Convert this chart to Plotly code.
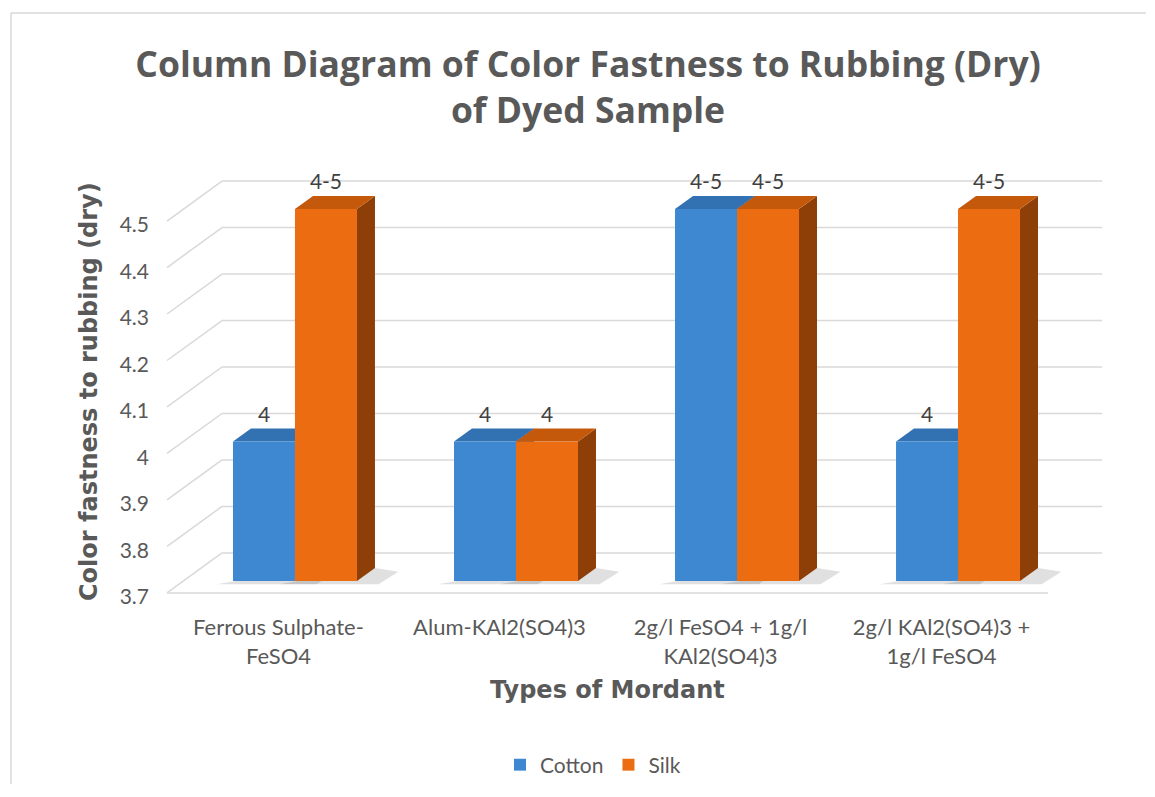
import plotly.graph_objects as go

# ---------------- data ----------------
categories = [
    "Ferrous Sulphate-<br>FeSO4",
    "Alum-KAl2(SO4)3",
    "2g/l FeSO4 + 1g/l<br>KAl2(SO4)3",
    "2g/l KAl2(SO4)3 +<br>1g/l FeSO4",
]
cotton = [4.0, 4.0, 4.5, 4.0]
silk = [4.5, 4.0, 4.5, 4.5]
cotton_labels = ["4", "4", "4-5", "4"]
silk_labels = ["4-5", "4", "4-5", "4-5"]
y_tickvals = [3.7, 3.8, 3.9, 4.0, 4.1, 4.2, 4.3, 4.4, 4.5]
y_ticktext = ["3.7", "3.8", "3.9", "4", "4.1", "4.2", "4.3", "4.4", "4.5"]

# ---------------- style / geometry ----------------
BASE = 3.7
X_RANGE = [-0.656, 3.665]
Y_RANGE = [3.659, 4.627]
BAR_W = 0.2805
DX, DY = 0.0814, 0.028            # 3-D depth of each column
BACK_DX, BACK_DY = 0.174, 0.0602  # back wall offset from column plane
FRONT_DX, FRONT_DY = -0.0747, -0.0258  # front edge offset from column plane
TICK_SHIFT = -0.0086              # extra nudge of the value labels
BACK_RIGHT = 3.652
FRONT_RIGHT = 3.407
LABEL_OFF = 0.054
GRID = "#d9d9d9"
TXT = "#595959"
FONT = "Lato"
TITLE_FONT = "Open Sans"
AXT_FONT = "DejaVu Sans"
FRONT_COL = {"Cotton": "#3d88d0", "Silk": "#ec6c12"}
TOP_COL = {"Cotton": "#3272b3", "Silk": "#c4580b"}
SIDE_COL = {"Cotton": "#28598c", "Silk": "#8e3e07"}

# page geometry (browser body has an 8px margin)
PAGE_OFF = 8
FIG_W, FIG_H = 1155 - 2 * PAGE_OFF, 797 - 2 * PAGE_OFF - 4
L, R, T, B = 150, 1105, 150, 600  # plot area in page pixels
FIG_RIGHT = PAGE_OFF + FIG_W      # right edge of the figure in page pixels
FIG_BOTTOM = PAGE_OFF + FIG_H


def px_x(p):
    return (p - L) / (R - L)


def px_y(p):
    return (B - p) / (B - T)


xs = list(range(len(categories)))

fig = go.Figure()

shapes = []
# floor / wall gridlines
front_left = X_RANGE[0] + 0.077
back_left = front_left + (BACK_DX - FRONT_DX)
for v in y_tickvals:
    shapes.append(dict(type="line", xref="x", yref="y", layer="below",
                       x0=back_left, x1=BACK_RIGHT, y0=v + BACK_DY, y1=v + BACK_DY,
                       line=dict(color=GRID, width=1.5)))
    shapes.append(dict(type="line", xref="x", yref="y", layer="below",
                       x0=front_left, x1=back_left, y0=v + FRONT_DY, y1=v + BACK_DY,
                       line=dict(color=GRID, width=1.5)))
shapes.append(dict(type="line", xref="x", yref="y", layer="below",
                   x0=front_left, x1=FRONT_RIGHT, y0=BASE + FRONT_DY, y1=BASE + FRONT_DY,
                   line=dict(color=GRID, width=1.5)))

# 3-D faces of the columns (derived from values)
for name, vals, off in [("Cotton", cotton, -BAR_W), ("Silk", silk, 0.0)]:
    for i, v in zip(xs, vals):
        xl = i + off
        xr = xl + BAR_W
        # soft shadow on floor
        shapes.append(dict(type="path", xref="x", yref="y", layer="below",
                           path=(f"M{xl - DX * 0.9},{BASE - DY * 0.25} L{xr + DX * 1.2},{BASE - DY * 0.25} "
                                 f"L{xr + DX * 2.3},{BASE + DY * 0.7} L{xr + DX},{BASE + DY} Z"),
                           fillcolor="rgba(0,0,0,0.12)", line=dict(width=0)))
        # side face
        shapes.append(dict(type="path", xref="x", yref="y", layer="below",
                           path=f"M{xr},{BASE} L{xr + DX},{BASE + DY} L{xr + DX},{v + DY} L{xr},{v} Z",
                           fillcolor=SIDE_COL[name], line=dict(width=0)))
        # top face
        shapes.append(dict(type="path", xref="x", yref="y", layer="below",
                           path=f"M{xl},{v} L{xl + DX},{v + DY} L{xr + DX},{v + DY} L{xr},{v} Z",
                           fillcolor=TOP_COL[name], line=dict(width=0)))

# front faces of columns
for name, vals, off in [("Cotton", cotton, -BAR_W), ("Silk", silk, 0.0)]:
    fig.add_trace(go.Bar(
        name=name, x=xs, y=[v - BASE for v in vals], base=BASE,
        width=BAR_W, offset=off,
        marker=dict(color=FRONT_COL[name], line=dict(width=0)),
        customdata=vals, hovertemplate=name + ": %{customdata}<extra></extra>",
    ))

# data labels
for vals, labels, off in [(cotton, cotton_labels, -BAR_W / 2), (silk, silk_labels, BAR_W / 2)]:
    fig.add_trace(go.Scatter(
        x=[i + off for i in xs], y=[v + LABEL_OFF for v in vals],
        text=labels, mode="text", textposition="middle center",
        textfont=dict(family=FONT, size=21, color="#404040"),
        showlegend=False, hoverinfo="skip",
    ))

# helper trace for the front tick-label axes
fig.add_trace(go.Scatter(x=xs, y=[BASE] * len(xs), xaxis="x2", yaxis="y2",
                         mode="markers", marker=dict(opacity=0), showlegend=False,
                         hoverinfo="skip"))

# outer chart border (left and top edges visible), kept inside the figure
shapes.append(dict(type="line", xref="paper", yref="paper", layer="below",
                   x0=px_x(11), x1=px_x(11), y0=px_y(FIG_BOTTOM - 1), y1=px_y(13),
                   line=dict(color=GRID, width=1.5)))
shapes.append(dict(type="line", xref="paper", yref="paper", layer="below",
                   x0=px_x(11), x1=px_x(FIG_RIGHT - 1), y0=px_y(13), y1=px_y(13),
                   line=dict(color=GRID, width=1.5)))

y2_shift = FRONT_DY + TICK_SHIFT

fig.update_layout(
    width=FIG_W, height=FIG_H,
    margin=dict(l=L - PAGE_OFF, r=FIG_W - (R - PAGE_OFF), t=T - PAGE_OFF, b=FIG_H - (B - PAGE_OFF)),
    paper_bgcolor="white", plot_bgcolor="white",
    barmode="overlay",
    shapes=shapes,
    font=dict(family=FONT, color=TXT),
    title=dict(text="Column Diagram of Color Fastness to Rubbing (Dry)<br>of Dyed Sample",
               x=(588 - PAGE_OFF) / FIG_W, xanchor="center",
               y=1 - (77 - PAGE_OFF) / FIG_H, yanchor="middle",
               font=dict(family=TITLE_FONT, size=35.5, color=TXT, weight="bold")),
    xaxis=dict(range=X_RANGE, showgrid=False, zeroline=False, showline=False,
               showticklabels=False, ticks="", automargin=False),
    yaxis=dict(range=Y_RANGE, showgrid=False, zeroline=False, showline=False,
               showticklabels=False, ticks="", automargin=False),
    xaxis2=dict(overlaying="x", anchor="y", side="bottom", automargin=False,
                range=[X_RANGE[0] - FRONT_DX, X_RANGE[1] - FRONT_DX],
                tickvals=xs, ticktext=categories, showgrid=False, zeroline=False,
                showline=False, ticks="outside", ticklen=8, tickcolor="rgba(0,0,0,0)",
                tickfont=dict(family=FONT, size=22, color=TXT)),
    yaxis2=dict(overlaying="y", anchor="x", side="left", automargin=False,
                range=[Y_RANGE[0] - y2_shift, Y_RANGE[1] - y2_shift],
                tickvals=y_tickvals, ticktext=y_ticktext, showgrid=False, zeroline=False,
                showline=False, ticks="",
                tickfont=dict(family=FONT, size=21, color=TXT)),
    legend=dict(orientation="h", xref="container", yref="container",
                x=(593 - PAGE_OFF) / FIG_W, xanchor="center",
                y=1 - (765 - PAGE_OFF) / FIG_H, yanchor="middle",
                font=dict(family=FONT, size=21, color=TXT), itemwidth=30,
                bgcolor="rgba(0,0,0,0)"),
    annotations=[
        dict(text="Color fastness to rubbing (dry)", xref="paper", yref="paper",
             x=px_x(89), y=px_y(392), textangle=-90, showarrow=False,
             xanchor="center", yanchor="middle",
             font=dict(family=AXT_FONT, size=24, color=TXT, weight="bold")),
        dict(text="Types of Mordant", xref="paper", yref="paper",
             x=px_x(607), y=px_y(690), showarrow=False,
             xanchor="center", yanchor="middle",
             font=dict(family=AXT_FONT, size=24, color=TXT, weight="bold")),
    ],
)

fig.write_html("out.html")
